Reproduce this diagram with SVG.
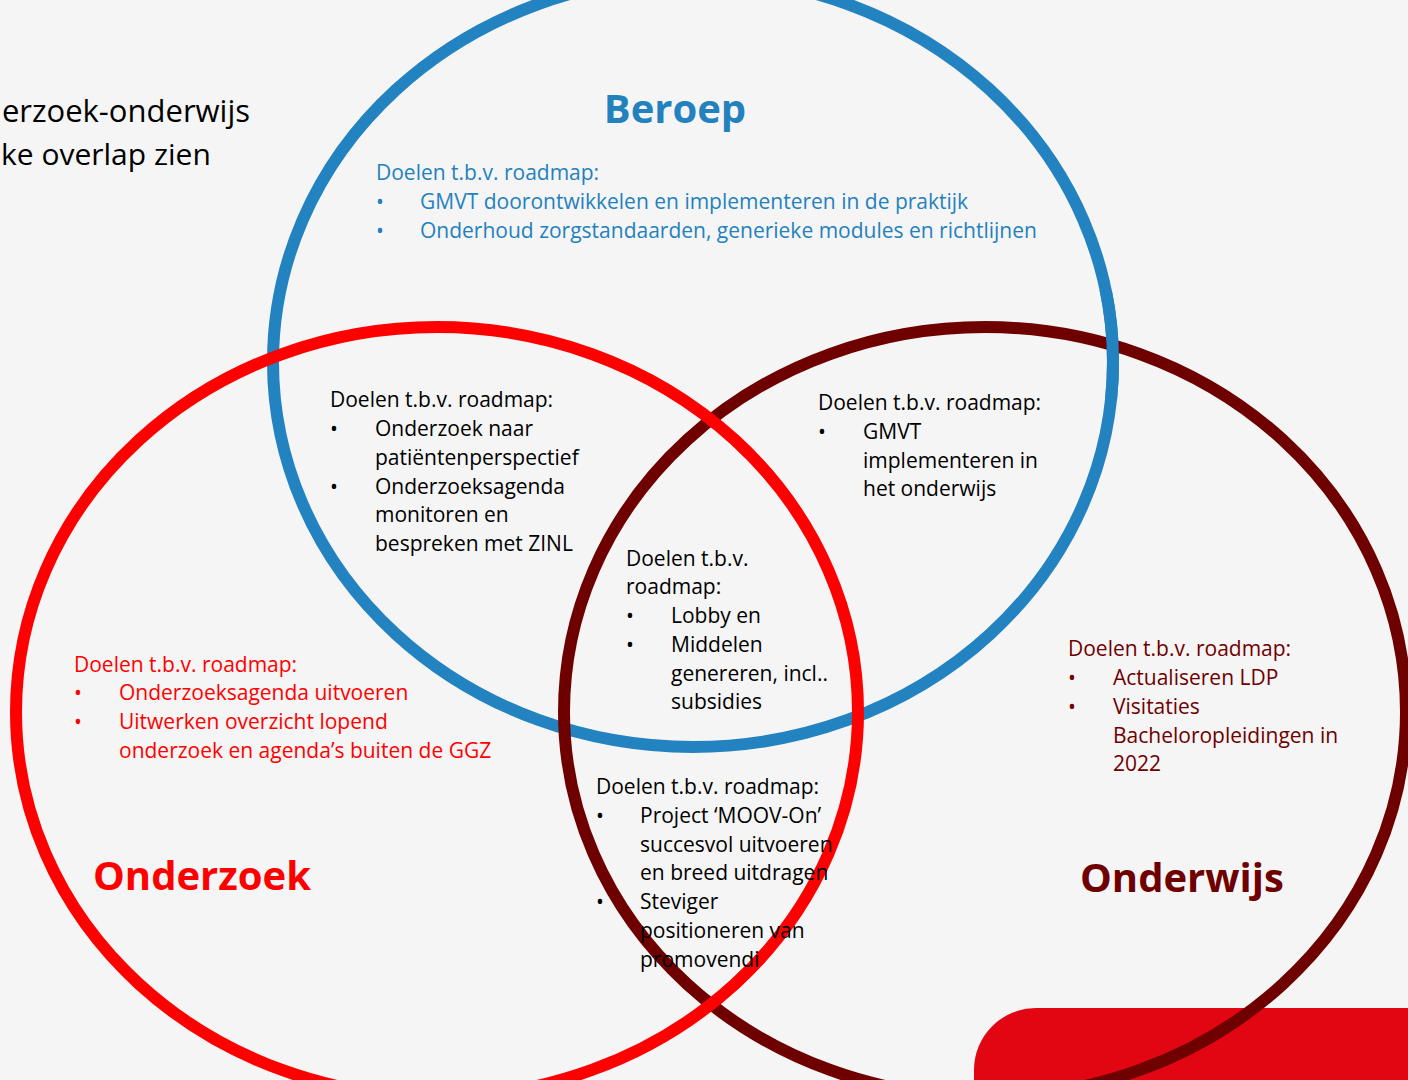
<svg xmlns="http://www.w3.org/2000/svg" width="1408" height="1080" viewBox="0 0 1408 1080">
<style>
  .t { font-family: "Open Sans", "Noto Sans", sans-serif; font-size: 21px; }
  .blk { fill: #000000; }
  .blu { fill: #2381be; }
  .red { fill: #ff0000; }
  .drd { fill: #6f0000; }
  .ttl { font-family: "Open Sans", "Noto Sans", sans-serif; font-weight: bold; font-size: 40px; }
  .ring { fill: none; stroke-width: 12; }
</style>
<defs>
  <clipPath id="tr"><rect x="1080" y="290" width="60" height="110"/></clipPath>
</defs>
<rect x="0" y="0" width="1408" height="1080" fill="#f5f5f5"/>
<rect x="974" y="1008" width="500" height="200" rx="62" fill="#e20613"/>

<g id="circles">
  <g id="beroep-circle"><ellipse class="ring" cx="693" cy="362" rx="420" ry="385" stroke="#2383c0"/></g>
  <g id="onderwijs-circle"><ellipse class="ring" cx="985" cy="712" rx="421" ry="385" stroke="#6f0000"/></g>
  <g id="beroep-circle-overlap"><ellipse class="ring" cx="693" cy="362" rx="420" ry="385" stroke="#2383c0" clip-path="url(#tr)"/></g>
  <g id="onderzoek-circle"><ellipse class="ring" cx="437" cy="712" rx="421" ry="385" stroke="#ff0000"/></g>
</g>

<g id="title">
  <text class="t blk" x="250" y="122" text-anchor="end" style="font-size:31px">erzoek-onderwijs</text>
  <text class="t blk" x="1" y="165" style="font-size:30px">ke overlap zien</text>
</g>

<g id="beroep">
  <text class="ttl blu" x="675" y="123" text-anchor="middle">Beroep</text>
  <text class="t blu" x="376" y="180">Doelen t.b.v. roadmap:</text>
  <text class="t blu" x="376" y="209">•</text><text class="t blu" x="420" y="209">GMVT doorontwikkelen en implementeren in de praktijk</text>
  <text class="t blu" x="376" y="238">•</text><text class="t blu" x="420" y="238">Onderhoud zorgstandaarden, generieke modules en richtlijnen</text>
</g>

<g id="beroep-onderzoek">
  <text class="t blk" x="330" y="407">Doelen t.b.v. roadmap:</text>
  <text class="t blk" x="330" y="436">•</text><text class="t blk" x="375" y="436">Onderzoek naar</text>
  <text class="t blk" x="375" y="465">patiëntenperspectief</text>
  <text class="t blk" x="330" y="494">•</text><text class="t blk" x="375" y="494">Onderzoeksagenda</text>
  <text class="t blk" x="375" y="522">monitoren en</text>
  <text class="t blk" x="375" y="551">bespreken met ZINL</text>
</g>

<g id="beroep-onderwijs">
  <text class="t blk" x="818" y="410">Doelen t.b.v. roadmap:</text>
  <text class="t blk" x="818" y="439">•</text><text class="t blk" x="863" y="439">GMVT</text>
  <text class="t blk" x="863" y="468">implementeren in</text>
  <text class="t blk" x="863" y="496">het onderwijs</text>
</g>

<g id="center">
  <text class="t blk" x="626" y="566">Doelen t.b.v.</text>
  <text class="t blk" x="626" y="594">roadmap:</text>
  <text class="t blk" x="626" y="623">•</text><text class="t blk" x="671" y="623">Lobby en</text>
  <text class="t blk" x="626" y="652">•</text><text class="t blk" x="671" y="652">Middelen</text>
  <text class="t blk" x="671" y="681">genereren, incl..</text>
  <text class="t blk" x="671" y="709">subsidies</text>
</g>

<g id="onderzoek-onderwijs">
  <text class="t blk" x="596" y="794">Doelen t.b.v. roadmap:</text>
  <text class="t blk" x="596" y="823">•</text><text class="t blk" x="640" y="823">Project ‘MOOV-On’</text>
  <text class="t blk" x="640" y="852">succesvol uitvoeren</text>
  <text class="t blk" x="640" y="880">en breed uitdragen</text>
  <text class="t blk" x="596" y="909">•</text><text class="t blk" x="640" y="909">Steviger</text>
  <text class="t blk" x="640" y="938">positioneren van</text>
  <text class="t blk" x="640" y="967">promovendi</text>
</g>

<g id="onderzoek">
  <text class="t red" x="74" y="672">Doelen t.b.v. roadmap:</text>
  <text class="t red" x="74" y="700">•</text><text class="t red" x="119" y="700">Onderzoeksagenda uitvoeren</text>
  <text class="t red" x="74" y="729">•</text><text class="t red" x="119" y="729">Uitwerken overzicht lopend</text>
  <text class="t red" x="119" y="758">onderzoek en agenda’s buiten de GGZ</text>
  <text class="ttl red" x="93" y="890">Onderzoek</text>
</g>

<g id="onderwijs">
  <text class="t drd" x="1068" y="656">Doelen t.b.v. roadmap:</text>
  <text class="t drd" x="1068" y="685">•</text><text class="t drd" x="1113" y="685">Actualiseren LDP</text>
  <text class="t drd" x="1068" y="714">•</text><text class="t drd" x="1113" y="714">Visitaties</text>
  <text class="t drd" x="1113" y="743">Bacheloropleidingen in</text>
  <text class="t drd" x="1113" y="771">2022</text>
  <text class="ttl drd" x="1080" y="892">Onderwijs</text>
</g>
</svg>
